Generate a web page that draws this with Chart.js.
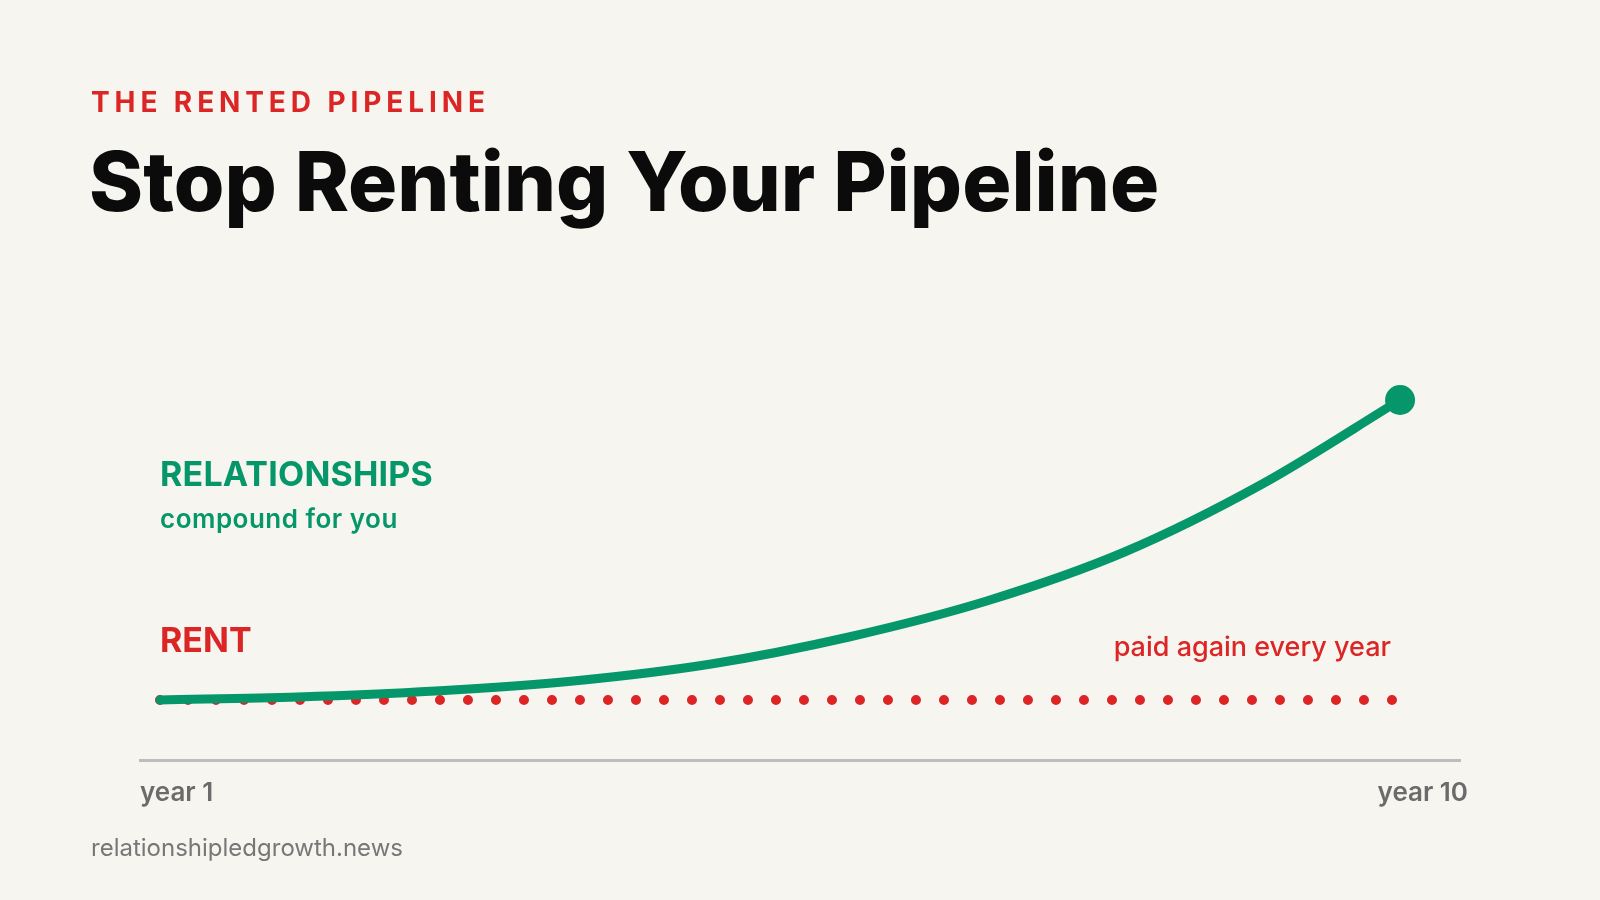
<!DOCTYPE html>
<html>
<head>
<meta charset="utf-8">
<script src="https://cdn.jsdelivr.net/npm/chart.js@4"></script>
<style>
  body { margin: 0; background: #f6f5f0; font-family: Inter, "Noto Sans", sans-serif; }
  #page { position: relative; width: 1600px; height: 900px; overflow: hidden; }
  #chartBox { position: absolute; left: 0; top: 0; width: 1600px; height: 900px; }
  .txt { position: absolute; line-height: 1; white-space: nowrap; }
  .kicker { left: 91px; top: 88px; font-size: 28px; font-weight: 700; letter-spacing: 4.9px; color: #dc2626; }
  .title { left: 89px; top: 141px; font-size: 82px; font-weight: 800; letter-spacing: 0px; color: #0b0b0b; }
  .relLabel { left: 160px; top: 457px; font-size: 34px; font-weight: 700; letter-spacing: 0.2px; color: #059669; }
  .relSub { left: 160px; top: 506px; font-size: 26px; font-weight: 600; letter-spacing: 0.5px; color: #059669; }
  .rentLabel { left: 160px; top: 623px; font-size: 34px; font-weight: 700; letter-spacing: 0px; color: #dc2626; }
  .rentSub { right: 209px; top: 633px; font-size: 27px; font-weight: 500; color: #dc2626; }
  .footer { left: 91px; top: 836px; font-size: 24px; font-weight: 400; color: #777; }
</style>
</head>
<body>
<div id="page">
  <div id="chartBox"><canvas id="pipelineChart" width="1600" height="900"></canvas></div>
  <div class="txt kicker">THE RENTED PIPELINE</div>
  <div class="txt title">Stop Renting Your Pipeline</div>
  <div class="txt relLabel">RELATIONSHIPS</div>
  <div class="txt relSub">compound for you</div>
  <div class="txt rentLabel">RENT</div>
  <div class="txt rentSub">paid again every year</div>
  <div class="txt footer">relationshipledgrowth.news</div>
</div>
<script>
// Datos del gráfico
const years = [1, 2, 3, 4, 5, 6, 7, 8, 9, 10];
const relationships = [0, 3, 9, 19, 36, 63, 99, 148, 216, 300];
const rent = [0, 0, 0, 0, 0, 0, 0, 0, 0, 0];
const tickLabels = ['year 1', 'year 10'];

const green = '#059669';
const red = '#dc2626';

// Radio del punto: solo el último año
const pointSizes = years.map((y, i) => i === years.length - 1 ? 15 : 0);

new Chart(document.getElementById('pipelineChart').getContext('2d'), {
    type: 'line',
    data: {
        datasets: [{
            label: 'Relationships',
            data: years.map((y, i) => ({ x: y, y: relationships[i] })),
            borderColor: green,
            backgroundColor: green,
            borderWidth: 9,
            borderCapStyle: 'round',
            cubicInterpolationMode: 'monotone',
            pointRadius: pointSizes,
            pointHoverRadius: pointSizes,
            pointBorderWidth: 0,
            clip: false
        }, {
            label: 'Rent',
            data: years.map((y, i) => ({ x: y, y: rent[i] })),
            borderColor: red,
            borderWidth: 10,
            borderCapStyle: 'round',
            borderDash: [0, 28],
            pointRadius: 0,
            clip: false
        }]
    },
    options: {
        responsive: false,
        animation: false,
        devicePixelRatio: 1,
        layout: { padding: { left: 140, right: 140, top: 380, bottom: 0 } },
        plugins: { legend: { display: false }, tooltip: { enabled: false } },
        scales: {
            x: {
                type: 'linear',
                min: 0.855,
                max: 10.435,
                grid: { display: false, drawTicks: false },
                border: { display: true, color: '#bdbdbd', width: 3 },
                afterBuildTicks: function(scale) {
                    // etiquetas en los extremos del eje
                    scale.ticks = [{ value: scale.min }, { value: scale.max + 0.058 }];
                },
                afterFit: function(scale) {
                    scale.height = 140;
                },
                ticks: {
                    align: 'inner',
                    padding: 18,
                    maxRotation: 0,
                    autoSkip: false,
                    color: '#6b6b6b',
                    font: { family: 'Inter', size: 26, weight: '600' },
                    callback: function(value, index) {
                        return tickLabels[index];
                    }
                }
            },
            y: {
                display: false,
                min: -60,
                max: 320
            }
        }
    }
});
</script>
</body>
</html>
